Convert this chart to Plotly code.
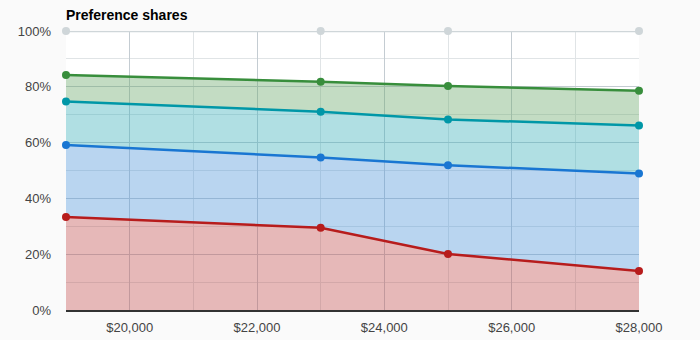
import plotly.graph_objects as go

prices = [19000, 23000, 25000, 28000]
series_names = ["Option A", "Option B", "Option C", "Option D", "None"]
share_a = [0.333, 0.295, 0.201, 0.140]
share_b = [0.258, 0.252, 0.318, 0.349]
share_c = [0.156, 0.164, 0.164, 0.172]
share_d = [0.095, 0.107, 0.120, 0.125]
share_none = [0.158, 0.182, 0.197, 0.214]

line_colors = ["#b71c1c", "#1976d2", "#0097a7", "#388e3c", "#cfd6d9"]
fill_colors = ["rgba(192,77,77,0.4)", "rgba(80,150,217,0.4)", "rgba(57,175,185,0.4)",
               "rgba(105,167,105,0.4)", "rgba(255,255,255,0.0)"]

fig = go.Figure()
for name, vals, lc, fc in zip(series_names, [share_a, share_b, share_c, share_d, share_none],
                              line_colors, fill_colors):
    fig.add_trace(go.Scatter(
        x=prices, y=vals, name=name, stackgroup="s", mode="lines+markers",
        line=dict(color=lc, width=2.5), marker=dict(color=lc, size=8),
        fillcolor=fc, cliponaxis=False,
    ))

fig.update_layout(
    width=700, height=340,
    margin=dict(l=66, r=61, t=31, b=30),
    paper_bgcolor="#fafafa", plot_bgcolor="#ffffff",
    showlegend=False,
    font=dict(family="Liberation Sans, Arial, sans-serif", size=13, color="#444"),
    title=dict(text="<b>Preference shares</b>", x=66/700, xanchor="left",
               y=1 - 15/340, yanchor="middle",
               font=dict(size=14, color="#000", family="Liberation Sans, Arial, sans-serif")),
    xaxis=dict(range=[19000, 28000], tick0=20000, dtick=2000, tickformat="$,.0f",
               showgrid=True, gridcolor="#c4ccd2", gridwidth=1,
               minor=dict(dtick=1000, tick0=19000, showgrid=True, gridcolor="#e0e4e6"),
               showline=True, linecolor="#333", linewidth=1.5, zeroline=False,
               ticks="", ticklen=0, ticklabelstandoff=5, automargin=False),
    yaxis=dict(range=[0, 1], dtick=0.2, tickformat=".0%",
               showgrid=True, gridcolor="#c4ccd2", gridwidth=1,
               minor=dict(dtick=0.1, showgrid=True, gridcolor="#e0e4e6"),
               zeroline=False, showline=False, ticks="", ticklen=0,
               ticklabelstandoff=14, automargin=False),
)

fig.write_html("out.html")
